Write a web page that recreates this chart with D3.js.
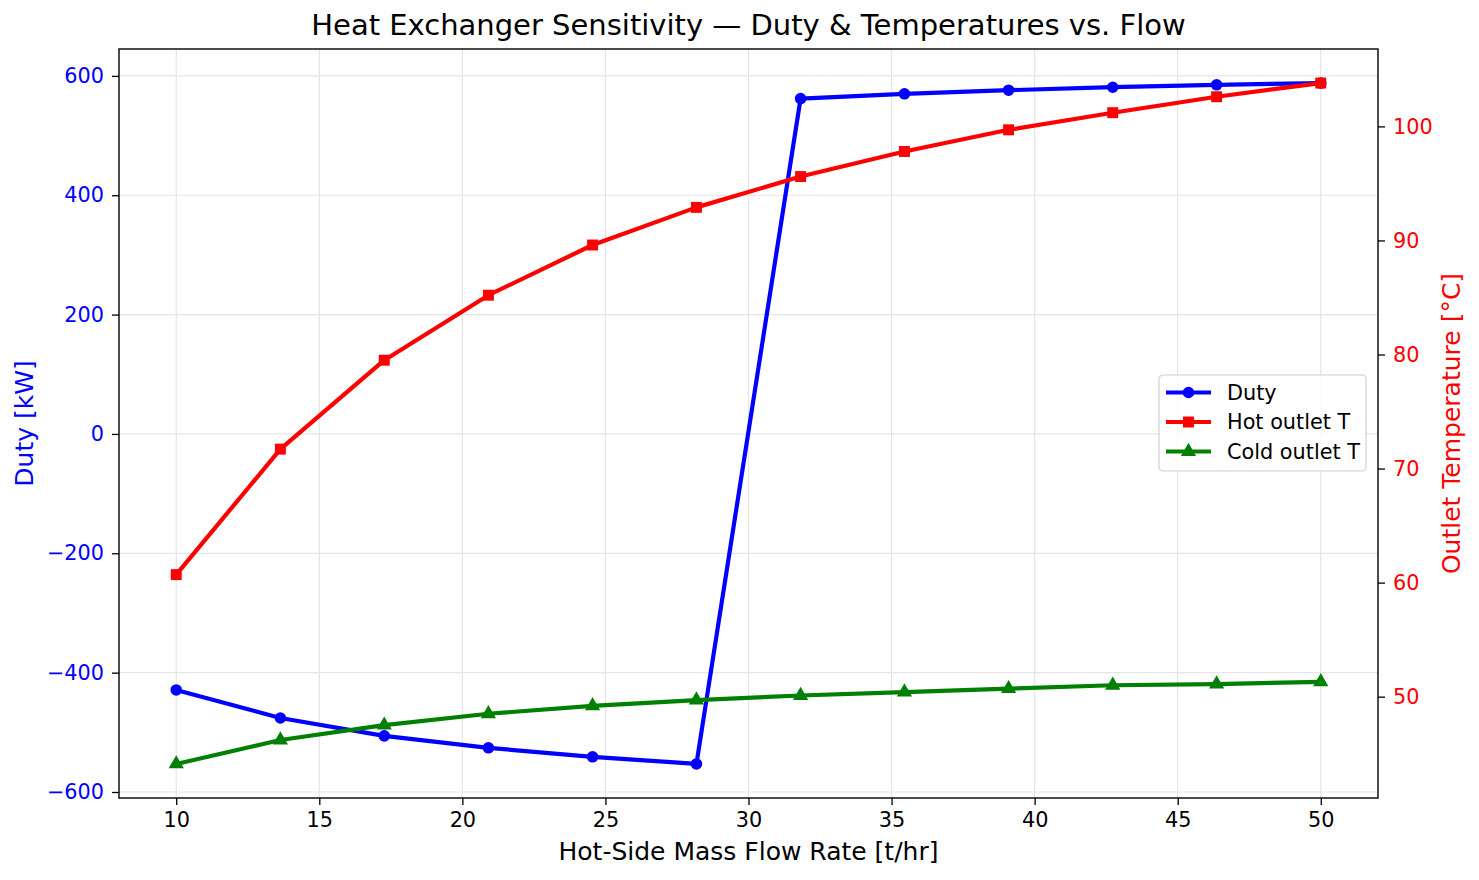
<!DOCTYPE html>
<html>
<head>
<meta charset="utf-8">
<script src="https://cdn.jsdelivr.net/npm/d3@7"></script>
<style>
  body { margin: 0; background: #fff; }
  svg { font-family: "DejaVu Sans", sans-serif; }
  .grid line { stroke: #e5e5e5; stroke-width: 1.2; }
</style>
</head>
<body>
<div id="chart"></div>
<script>
// flow rates (t/hr) and the three series
const flow = [10, 13.64, 17.27, 20.91, 24.55, 28.18, 31.82, 35.45, 39.09, 42.73, 46.36, 50];
const duty = [-429, -476, -506, -526, -541, -553, 562, 570, 576, 581, 585, 588];
const hotOut = [60.7, 71.7, 79.5, 85.2, 89.6, 92.9, 95.6, 97.8, 99.7, 101.2, 102.6, 103.8];
const coldOut = [44.1, 46.2, 47.5, 48.5, 49.2, 49.7, 50.1, 50.4, 50.7, 51.0, 51.1, 51.3];

const xTicks = [10, 15, 20, 25, 30, 35, 40, 45, 50];
const dutyTicks = [-600, -400, -200, 0, 200, 400, 600];
const tempTicks = [50, 60, 70, 80, 90, 100];

const W = 1479, H = 880;
const margin = { top: 49, right: 101, bottom: 82, left: 119 };
const width = W - margin.left - margin.right;
const height = H - margin.top - margin.bottom;

// matplotlib style 5% padding
function padded(vals) {
  const [lo, hi] = d3.extent(vals);
  const p = (hi - lo) * 0.05;
  return [lo - p, hi + p];
}

const x = d3.scaleLinear().domain(padded(flow)).range([0, width]);
const yL = d3.scaleLinear().domain(padded(duty)).range([height, 0]);
const yR = d3.scaleLinear().domain(padded(hotOut.concat(coldOut))).range([height, 0]);

const svg = d3.select('#chart')
  .append('svg')
  .attr('width', W)
  .attr('height', H);

const g = svg.append('g')
  .attr('transform', `translate(${margin.left},${margin.top})`);

// grid
g.append('g').attr('class', 'grid')
  .selectAll('line').data(xTicks).join('line')
  .attr('x1', d => x(d)).attr('x2', d => x(d))
  .attr('y1', 0).attr('y2', height);
g.append('g').attr('class', 'grid')
  .selectAll('line').data(dutyTicks).join('line')
  .attr('x1', 0).attr('x2', width)
  .attr('y1', d => yL(d)).attr('y2', d => yL(d));

const tickFont = 20.8;

function styleAxis(sel, color) {
  sel.select('.domain').remove();
  sel.selectAll('.tick line').attr('stroke', '#000').attr('stroke-width', 1.3);
  sel.selectAll('.tick text')
    .attr('fill', color)
    .style('font-size', tickFont + 'px')
    .style('font-family', '"DejaVu Sans", sans-serif');
}

g.append('g')
  .attr('transform', `translate(0,${height})`)
  .call(d3.axisBottom(x).tickValues(xTicks).tickSize(7).tickPadding(7))
  .call(s => styleAxis(s, '#000'));

g.append('g')
  .call(d3.axisLeft(yL).tickValues(dutyTicks).tickSize(7).tickPadding(8).tickFormat(d => d < 0 ? '\u2212' + Math.abs(d) : d))
  .call(s => styleAxis(s, 'blue'));

g.append('g')
  .attr('transform', `translate(${width},0)`)
  .call(d3.axisRight(yR).tickValues(tempTicks).tickSize(7).tickPadding(8))
  .call(s => styleAxis(s, 'red'));

// series
const series = [
  { name: 'Duty', vals: duty, y: yL, color: 'blue', marker: 'circle' },
  { name: 'Hot outlet T', vals: hotOut, y: yR, color: 'red', marker: 'square' },
  { name: 'Cold outlet T', vals: coldOut, y: yR, color: 'green', marker: 'triangle' }
];

const symbols = {
  circle: d3.symbol().type(d3.symbolCircle).size(105),
  square: d3.symbol().type(d3.symbolSquare).size(120),
  triangle: d3.symbol().type(d3.symbolTriangle).size(100)
};

series.forEach(s => {
  const line = d3.line().x((d, i) => x(flow[i])).y(d => s.y(d));
  g.append('path')
    .datum(s.vals)
    .attr('fill', 'none')
    .attr('stroke', s.color)
    .attr('stroke-width', 4.2)
    .attr('stroke-linejoin', 'round')
    .attr('d', line);
  g.append('g').selectAll('path').data(s.vals).join('path')
    .attr('transform', (d, i) => `translate(${x(flow[i])},${s.y(d)})`)
    .attr('d', symbols[s.marker])
    .attr('fill', s.color);
});

// frame
g.append('rect')
  .attr('width', width).attr('height', height)
  .attr('fill', 'none').attr('stroke', '#000').attr('stroke-width', 1.4);

// labels
svg.append('text')
  .attr('x', margin.left + width / 2).attr('y', 35)
  .attr('text-anchor', 'middle')
  .style('font-size', '29px')
  .text('Heat Exchanger Sensitivity \u2014 Duty & Temperatures vs. Flow');

svg.append('text')
  .attr('x', margin.left + width / 2).attr('y', 860)
  .attr('text-anchor', 'middle')
  .style('font-size', '25px')
  .text('Hot-Side Mass Flow Rate [t/hr]');

svg.append('text')
  .attr('transform', `translate(33,${margin.top + height / 2}) rotate(-90)`)
  .attr('text-anchor', 'middle')
  .attr('fill', 'blue')
  .style('font-size', '25px')
  .text('Duty [kW]');

svg.append('text')
  .attr('transform', `translate(1460,${margin.top + height / 2}) rotate(-90)`)
  .attr('text-anchor', 'middle')
  .attr('fill', 'red')
  .style('font-size', '25px')
  .text('Outlet Temperature [\u00b0C]');

// legend
const leg = g.append('g')
  .attr('transform', `translate(${1159 - margin.left},${375 - margin.top})`);
leg.append('rect')
  .attr('width', 207).attr('height', 96).attr('rx', 4)
  .attr('fill', 'rgba(255,255,255,0.8)')
  .attr('stroke', '#d0d0d0').attr('stroke-width', 1.2);
series.forEach((s, i) => {
  const ly = 17.5 + i * 29.5;
  leg.append('line')
    .attr('x1', 7).attr('x2', 52).attr('y1', ly).attr('y2', ly)
    .attr('stroke', s.color).attr('stroke-width', 4.2);
  leg.append('path')
    .attr('transform', `translate(29.5,${ly})`)
    .attr('d', symbols[s.marker])
    .attr('fill', s.color);
  leg.append('text')
    .attr('x', 68).attr('y', ly + 7)
    .style('font-size', tickFont + 'px')
    .text(s.name);
});
</script>
</body>
</html>
